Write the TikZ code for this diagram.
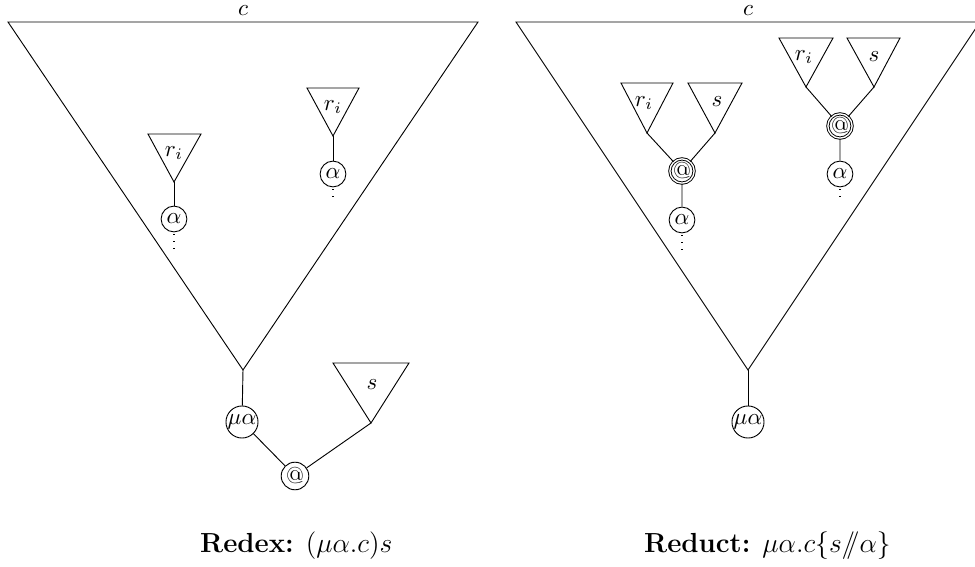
\documentclass[tikz,border=0pt]{standalone}
\begin{document}
\begin{tikzpicture}[x=0.4348pt,y=-0.4348pt,
    var/.style={circle,draw,inner sep=0pt,minimum size=11.2pt},
    mu/.style={circle,draw,inner sep=0pt,minimum size=12.4pt},
    app/.style={circle,draw,inner sep=0pt,minimum size=12pt},
    appd/.style={app,double,double distance=0.6pt,minimum size=10.4pt},
    more/.style={dash pattern=on 0.45pt off 2.6pt,line width=0.45pt,shorten <=0.8pt},
    top/.style={inner sep=0.5pt}]
  \useasboundingbox (0,0) rectangle (975,567);
  % redex
  \draw (8,22)--(478,22)--(243,370) coordinate (Lbot)--cycle;
  \node[top] (Lc) at (243,11) {$c$};
  \draw (148,134)--(201,134)--(174,182) coordinate (Lr1)--cycle;
  \node (Lr1t) at (174,153) {$r_i$};
  \node[var] (La1) at (174,219) {$\alpha$};
  \coordinate (Ld1) at (174,249);
  \draw (Lr1)--(La1);
  \draw[more] (La1)--(Ld1);
  \draw (307,88)--(359,88)--(333,136) coordinate (Lr2)--cycle;
  \node (Lr2t) at (333,107) {$r_i$};
  \node[var] (La2) at (333,174) {$\alpha$};
  \coordinate (Ld2) at (333,202);
  \draw (Lr2)--(La2);
  \draw[more] (La2)--(Ld2);
  \node[mu] (Lmu) at (242,422) {$\mu\alpha$};
  \node[app] (Lapp) at (295,476) {@};
  \draw (333,363)--(409,363)--(371,423) coordinate (Ls)--cycle;
  \node (Lst) at (372,385) {$s$};
  \draw (Lbot)--(Lmu)--(Lapp)--(Ls);
  \node[anchor=base west] (Lcap) at (192,552) {\large\textbf{Redex:} $(\mu\alpha.c)s$};
  % reduct
  \draw (516,22)--(980,22)--(748,370) coordinate (Rbot)--cycle;
  \node[top] (Rc) at (748,11) {$c$};
  \draw (621,83)--(673,83)--(647,133) coordinate (Rr1)--cycle;
  \node (Rr1t) at (644,103) {$r_i$};
  \draw (688,83)--(742,83)--(715,133) coordinate (Rs1)--cycle;
  \node (Rs1t) at (717,102) {$s$};
  \node[appd] (Rapp1) at (682,171) {@};
  \node[var] (Ra1) at (682,220) {$\alpha$};
  \coordinate (Rd1) at (682,250);
  \draw (Rr1)--(Rapp1)--(Rs1) (Rapp1)--(Ra1);
  \draw[more] (Ra1)--(Rd1);
  \draw (779,38)--(833,38)--(806,87) coordinate (Rr2)--cycle;
  \node (Rr2t) at (804,57) {$r_i$};
  \draw (847,38)--(900,38)--(874,87) coordinate (Rs2)--cycle;
  \node (Rs2t) at (874,57) {$s$};
  \node[appd] (Rapp2) at (840,126) {@};
  \node[var] (Ra2) at (840,174) {$\alpha$};
  \coordinate (Rd2) at (840,202);
  \draw (Rr2)--(Rapp2)--(Rs2) (Rapp2)--(Ra2);
  \draw[more] (Ra2)--(Rd2);
  \node[mu] (Rmu) at (748,422) {$\mu\alpha$};
  \draw (Rbot)--(Rmu);
  \node[anchor=base west] (Rcap) at (636,552) {\large\textbf{Reduct:} $\mu\alpha.c\{s/\!\!/\alpha\}$};
\end{tikzpicture}
\end{document}
